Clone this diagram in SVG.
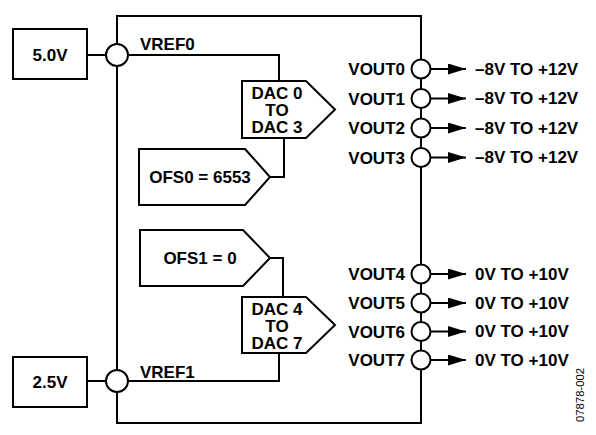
<svg xmlns="http://www.w3.org/2000/svg" width="596" height="435" viewBox="0 0 596 435">
<style>
.ln{fill:none;stroke:#000;stroke-width:2}
.shp{fill:#fff;stroke:#000;stroke-width:2}
.t{font-family:"Liberation Sans",Arial,sans-serif;font-weight:bold;font-size:17px;fill:#000}
.m{text-anchor:middle}
.e{text-anchor:end}
.id{font-family:"Liberation Sans",Arial,sans-serif;font-size:11.3px;fill:#000}
</style>
<defs>
<marker id="ah" markerWidth="18" markerHeight="11" refX="18" refY="5.5" orient="auto" markerUnits="userSpaceOnUse">
<polygon points="0,0 18,5.5 0,11" fill="#000"/>
</marker>
</defs>
<rect width="596" height="435" fill="#fff"/>
<g id="chip"><rect class="ln" x="117" y="16" width="304" height="407"/></g>
<g id="connectors">
<path class="ln" d="M87,55H106"/>
<path class="ln" d="M128,55H279V81"/>
<path class="ln" d="M284,138V177H270"/>
<path class="ln" d="M270,258H283V297"/>
<path class="ln" d="M279,353V381H128"/>
<path class="ln" d="M87,381H106"/>
<path class="ln" d="M431,69H466" marker-end="url(#ah)"/>
<path class="ln" d="M431,98.5H466" marker-end="url(#ah)"/>
<path class="ln" d="M431,128H466" marker-end="url(#ah)"/>
<path class="ln" d="M431,157.5H466" marker-end="url(#ah)"/>
<path class="ln" d="M431,274H466" marker-end="url(#ah)"/>
<path class="ln" d="M431,303H466" marker-end="url(#ah)"/>
<path class="ln" d="M431,331.5H466" marker-end="url(#ah)"/>
<path class="ln" d="M431,360H466" marker-end="url(#ah)"/>
</g>
<g id="v50"><rect class="shp" x="13" y="29" width="74" height="50"/><text class="t m" x="50" y="61">5.0V</text></g>
<g id="v25"><rect class="shp" x="13" y="357" width="74" height="50"/><text class="t m" x="50" y="388">2.5V</text></g>
<g id="vref0"><circle class="shp" cx="117" cy="55" r="11"/><text class="t" x="140" y="50">VREF0</text></g>
<g id="vref1"><circle class="shp" cx="117" cy="381" r="11"/><text class="t" x="140" y="378">VREF1</text></g>
<g id="dac03"><polygon class="shp" points="242,81 306,81 335,109.5 306,138 242,138"/>
<text class="t m" x="277" y="99">DAC 0</text><text class="t m" x="277" y="115.5">TO</text><text class="t m" x="277" y="132.5">DAC 3</text></g>
<g id="ofs0"><polygon class="shp" points="139,149 245,149 270,177 245,205 139,205"/><text class="t m" x="200" y="183">OFS0 = 6553</text></g>
<g id="ofs1"><polygon class="shp" points="140,230 243,230 270,258 243,286 140,286"/><text class="t m" x="200" y="264">OFS1 = 0</text></g>
<g id="dac47"><polygon class="shp" points="242,297 306,297 335,325 306,353 242,353"/>
<text class="t m" x="277" y="315">DAC 4</text><text class="t m" x="277" y="332">TO</text><text class="t m" x="277" y="349">DAC 7</text></g>
<g id="vout0"><circle class="shp" cx="421" cy="69" r="9.5"/><text class="t e" x="405" y="75">VOUT0</text><text class="t" x="475" y="74.5">–8V TO +12V</text></g>
<g id="vout1"><circle class="shp" cx="421" cy="98.5" r="9.5"/><text class="t e" x="405" y="104.5">VOUT1</text><text class="t" x="475" y="104">–8V TO +12V</text></g>
<g id="vout2"><circle class="shp" cx="421" cy="128" r="9.5"/><text class="t e" x="405" y="134">VOUT2</text><text class="t" x="475" y="133.5">–8V TO +12V</text></g>
<g id="vout3"><circle class="shp" cx="421" cy="157.5" r="9.5"/><text class="t e" x="405" y="163.5">VOUT3</text><text class="t" x="475" y="163">–8V TO +12V</text></g>
<g id="vout4"><circle class="shp" cx="421" cy="274" r="9.5"/><text class="t e" x="405" y="280">VOUT4</text><text class="t" x="475" y="279.5">0V TO +10V</text></g>
<g id="vout5"><circle class="shp" cx="421" cy="303" r="9.5"/><text class="t e" x="405" y="309">VOUT5</text><text class="t" x="475" y="308.5">0V TO +10V</text></g>
<g id="vout6"><circle class="shp" cx="421" cy="331.5" r="9.5"/><text class="t e" x="405" y="337.5">VOUT6</text><text class="t" x="475" y="337">0V TO +10V</text></g>
<g id="vout7"><circle class="shp" cx="421" cy="360" r="9.5"/><text class="t e" x="405" y="366">VOUT7</text><text class="t" x="475" y="365.5">0V TO +10V</text></g>
<text class="id" transform="translate(584,422) rotate(-90)">07878-002</text>
</svg>
